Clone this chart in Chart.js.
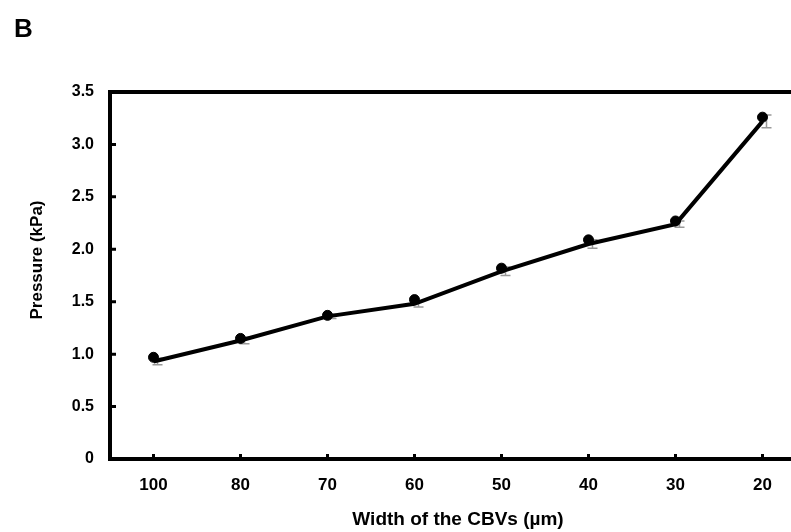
<!DOCTYPE html>
<html>
<head>
<meta charset="utf-8">
<script src="https://cdn.jsdelivr.net/npm/chart.js@4.4.1/dist/chart.umd.min.js"></script>
<style>
    body { margin: 0; overflow: hidden; background: #fff; }
    #wrap { position: relative; width: 812px; height: 532px; }
    #panel { position: absolute; left: 14px; top: 13px; font: bold 26px "Liberation Sans", Arial, sans-serif; }
</style>
</head>
<body>
<div id="wrap">
    <canvas id="pressureChart" width="812" height="532"></canvas>
    <div id="panel">B</div>
</div>
<script>
// widths of the CBVs (µm), plotted from wide to narrow
const widths = ["100", "80", "70", "60", "50", "40", "30", "20"];
// measured pressure (dots)
const dotVals = [0.97, 1.15, 1.37, 1.52, 1.82, 2.09, 2.27, 3.26];
// connecting line
const lineVals = [0.93, 1.13, 1.36, 1.48, 1.79, 2.05, 2.24, 3.22];
// error (kPa)
const errVals = [0.03, 0.03, 0.02, 0.03, 0.04, 0.04, 0.03, 0.06];
const yTicks = [0, 0.5, 1.0, 1.5, 2.0, 2.5, 3.0, 3.5];

const fontFam = '"Liberation Sans", Arial, sans-serif';

// grey error caps go under the line
const errorPlugin = {
    id: "errors",
    beforeDatasetsDraw(chart) {
        const ctx = chart.ctx;
        const xs = chart.scales.x;
        const ys = chart.scales.y;
        ctx.save();
        ctx.strokeStyle = "#999";
        ctx.lineWidth = 1.5;
        ctx.beginPath();
        lineVals.forEach((v, i) => {
            const px = xs.getPixelForValue(i) + 4;
            const hi = ys.getPixelForValue(v + errVals[i]);
            const lo = ys.getPixelForValue(v - errVals[i]);
            ctx.moveTo(px - 5, hi); ctx.lineTo(px + 5, hi);
            ctx.moveTo(px - 5, lo); ctx.lineTo(px + 5, lo);
            ctx.moveTo(px, hi); ctx.lineTo(px, lo);
        });
        ctx.stroke();
        ctx.restore();
    }
};

// frame (top/right), inner tick marks and the y title
const framePlugin = {
    id: "frame",
    afterDatasetsDraw(chart) {
        const ctx = chart.ctx;
        const a = chart.chartArea;
        const xs = chart.scales.x;
        const ys = chart.scales.y;
        ctx.save();
        ctx.strokeStyle = "#000";
        ctx.lineWidth = 4;
        ctx.beginPath();
        ctx.moveTo(a.left - 2, a.top);
        ctx.lineTo(a.right, a.top);
        ctx.lineTo(a.right, a.bottom);
        ctx.stroke();

        ctx.lineWidth = 3;
        ctx.beginPath();
        yTicks.forEach((v) => {
            if (v === 0 || v === 3.5) return;
            const py = ys.getPixelForValue(v);
            ctx.moveTo(a.left, py);
            ctx.lineTo(a.left + 6, py);
        });
        widths.forEach((w, i) => {
            const px = xs.getPixelForValue(i);
            ctx.moveTo(px, a.bottom);
            ctx.lineTo(px, a.bottom - 5);
        });
        ctx.stroke();

        ctx.translate(37, 260);
        ctx.rotate(-Math.PI / 2);
        ctx.fillStyle = "#000";
        ctx.font = "bold 17px " + fontFam;
        ctx.textAlign = "center";
        ctx.textBaseline = "middle";
        ctx.fillText("Pressure (kPa)", 0, 0);
        ctx.restore();
    }
};

const ctx = document.getElementById("pressureChart").getContext("2d");
const pressureChart = new Chart(ctx, {
    type: "line",
    data: {
        labels: widths,
        datasets: [
            {
                label: "Pressure",
                data: dotVals,
                showLine: false,
                pointRadius: 5,
                pointBackgroundColor: "#000",
                pointBorderColor: "#000",
                order: 1,
            },
            {
                label: "Trend",
                data: lineVals,
                borderColor: "#000",
                borderWidth: 4,
                pointRadius: 0,
                tension: 0,
                order: 2,
            },
        ],
    },
    options: {
        responsive: false,
        animation: false,
        layout: {
            padding: { top: 92, right: 4, left: 0, bottom: 0 },
        },
        plugins: {
            legend: { display: false },
            tooltip: { enabled: false },
        },
        scales: {
            x: {
                type: "category",
                offset: true,
                grid: { display: false, drawTicks: false },
                border: { display: true, color: "#000", width: 4 },
                ticks: {
                    color: "#000",
                    padding: 16,
                    maxRotation: 0,
                    font: { family: fontFam, size: 17, weight: "bold" },
                },
                title: {
                    display: true,
                    text: "Width of the CBVs (µm)",
                    color: "#000",
                    padding: { top: 0, bottom: 1 },
                    font: { family: fontFam, size: 19, weight: "bold" },
                },
                afterFit(scale) {
                    scale.height = 73;
                },
            },
            y: {
                min: 0,
                max: 3.5,
                grid: { display: false, drawTicks: false },
                border: { display: true, color: "#000", width: 4 },
                ticks: {
                    stepSize: 0.5,
                    color: "#000",
                    padding: 16,
                    font: { family: fontFam, size: 16, weight: "bold" },
                    callback: (v) => (v === 0 ? "0" : v.toFixed(1)),
                },
                afterFit(scale) {
                    scale.width = 110;
                },
            },
        },
    },
    plugins: [errorPlugin, framePlugin],
});
</script>
</body>
</html>
